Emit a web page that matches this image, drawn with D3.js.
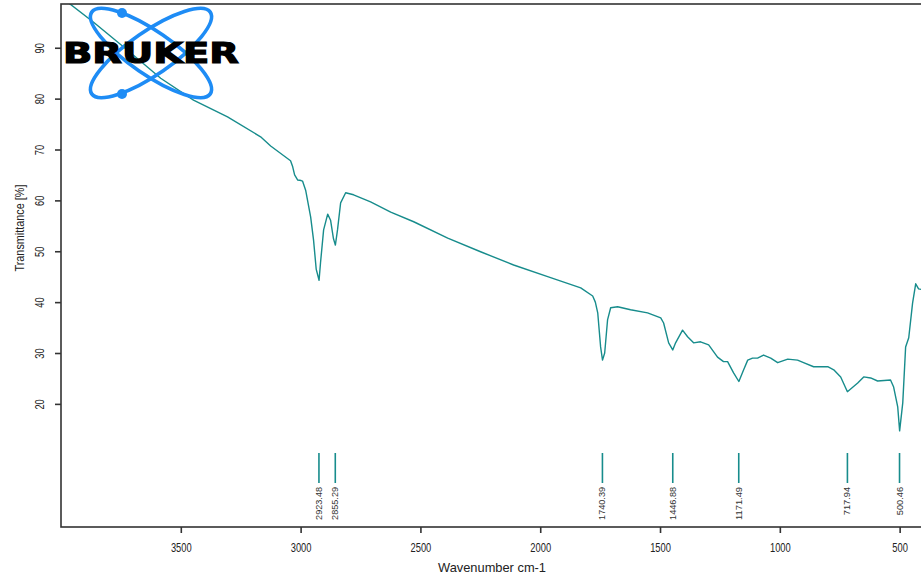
<!DOCTYPE html>
<html>
<head>
<meta charset="utf-8">
<script src="https://cdn.jsdelivr.net/npm/d3@7"></script>
<style>
  html, body { margin: 0; padding: 0; background: #fff; }
  svg { display: block; }
  text { font-family: "Liberation Sans", Arial, sans-serif; fill: #222; }
</style>
</head>
<body>
<svg id="chart" width="921" height="581"></svg>
<script>
// IR spectrum: wavenumber (cm-1) and transmittance (%)
const wavenumbers = [4000, 3968, 3864, 3722, 3584, 3447, 3305, 3167, 3125, 3042, 3033, 3025, 3012, 2998, 2992,
  2979, 2958, 2946, 2935, 2923, 2917, 2904, 2887, 2875, 2863, 2855, 2846, 2833, 2812, 2779, 2708, 2624,
  2528, 2386, 2249, 2111, 1969, 1831, 1781, 1770, 1760, 1748, 1740, 1731, 1719, 1706, 1677, 1623, 1552,
  1497, 1485, 1464, 1447, 1435, 1406, 1385, 1360, 1331, 1297, 1260, 1235, 1218, 1193, 1171, 1151, 1134,
  1114, 1093, 1068, 1038, 1009, 967, 926, 901, 859, 800, 775, 746, 718, 675, 650, 621, 592, 538, 525,
  508, 500, 487, 475, 462, 446, 433, 421, 400];
const transmittance = [99.8, 98.8, 95.0, 89.5, 84.0, 79.7, 76.4, 72.5, 70.7, 67.8, 66.6, 65.0, 64.0, 63.9, 63.8,
  62.0, 56.7, 52.2, 46.5, 44.3, 47.7, 54.2, 57.3, 56.1, 52.5, 51.2, 54.2, 59.5, 61.5, 61.1, 59.7, 57.7,
  55.8, 52.6, 49.9, 47.3, 45.0, 42.8, 41.2, 40.0, 37.9, 31.2, 28.6, 30.0, 36.5, 38.9, 39.1, 38.5, 37.9,
  36.9, 35.9, 32.0, 30.6, 32.0, 34.5, 33.2, 32.0, 32.2, 31.6, 29.2, 28.3, 28.3, 26.1, 24.4, 26.7, 28.6,
  29.0, 29.0, 29.6, 29.0, 28.1, 28.8, 28.6, 28.1, 27.3, 27.3, 26.7, 25.3, 22.4, 24.1, 25.3, 25.1, 24.5, 24.7, 23.3,
  19.4, 14.7, 20.2, 31.2, 33.0, 39.8, 43.6, 42.6, 42.4];

// Picked peaks
const peakPositions = [2923.48, 2855.29, 1740.39, 1446.88, 1171.49, 717.94, 500.46];
const peakLabels = ["2923.48", "2855.29", "1740.39", "1446.88", "1171.49", "717.94", "500.46"];

// Axis ticks
const xTicks = [3500, 3000, 2500, 2000, 1500, 1000, 500];
const yTicks = [20, 30, 40, 50, 60, 70, 80, 90];

const svg = d3.select("#chart");
const plotLeft = 61, plotRight = 923.6, plotTop = 4, plotBottom = 527;
const lineColor = "#178c8c";

const x = d3.scaleLinear().domain([4000, 400]).range([plotLeft, plotRight]);
const y = d3.scaleLinear().domain([-4.2, 98.6]).range([plotBottom, plotTop]);

svg.append("defs").append("clipPath").attr("id", "plotClip")
  .append("rect").attr("x", plotLeft).attr("y", plotTop)
  .attr("width", plotRight - plotLeft).attr("height", plotBottom - plotTop);

// Bruker logo: two crossed orbits with electrons and the wordmark
const logo = svg.append("g");
const cx = 151, cy = 53;
[-34.6, 34.6].forEach(a => {
  logo.append("ellipse")
    .attr("cx", cx).attr("cy", cy).attr("rx", 72).attr("ry", 21.5)
    .attr("transform", `rotate(${a},${cx},${cy})`)
    .attr("fill", "none").attr("stroke", "#1e8cf5").attr("stroke-width", 3.6);
});
[[122, 13], [122, 94]].forEach(([px, py]) => {
  logo.append("circle").attr("cx", px).attr("cy", py).attr("r", 5).attr("fill", "#1e8cf5");
});

// Spectrum
const line = d3.line().x((d, i) => x(wavenumbers[i])).y(d => y(d));
svg.append("path")
  .datum(transmittance)
  .attr("clip-path", "url(#plotClip)")
  .attr("d", line)
  .attr("fill", "none")
  .attr("stroke", lineColor)
  .attr("stroke-width", 1.4)
  .attr("stroke-linejoin", "round");

logo.raise();
logo.append("text")
  .attr("x", 63).attr("y", 63)
  .attr("textLength", 176).attr("lengthAdjust", "spacingAndGlyphs")
  .style("font-family", "'DejaVu Sans', sans-serif")
  .style("font-weight", "bold")
  .style("font-size", "29px")
  .style("fill", "#000")
  .style("stroke", "#000").style("stroke-width", 1.2)
  .text("BRUKER");

// Frame
svg.append("rect")
  .attr("x", plotLeft).attr("y", plotTop)
  .attr("width", plotRight - plotLeft).attr("height", plotBottom - plotTop)
  .attr("fill", "none").attr("stroke", "#333").attr("stroke-width", 1.6);

// X axis
const xAxis = svg.append("g").attr("transform", `translate(0,${plotBottom})`)
  .call(d3.axisBottom(x).tickValues(xTicks).tickSize(6).tickPadding(10).tickFormat(d3.format("d")));
xAxis.select(".domain").remove();
xAxis.selectAll(".tick line").attr("stroke", "#333").attr("stroke-width", 1.6);
xAxis.selectAll(".tick text")
  .style("font-size", "13px").style("fill", "#222")
  .attr("textLength", d => String(d).length * 5.2)
  .attr("lengthAdjust", "spacingAndGlyphs");

// Y axis with rotated labels
const yAxis = svg.append("g").attr("transform", `translate(${plotLeft},0)`)
  .call(d3.axisLeft(y).tickValues(yTicks).tickSize(6).tickFormat(d3.format("d")));
yAxis.select(".domain").remove();
yAxis.selectAll(".tick line").attr("stroke", "#333").attr("stroke-width", 1.6);
yAxis.selectAll(".tick text")
  .attr("x", 0).attr("dy", null)
  .attr("transform", "translate(-20,0) rotate(-90)")
  .attr("text-anchor", "middle")
  .attr("dominant-baseline", "middle")
  .style("font-size", "13px").style("fill", "#222")
  .attr("textLength", d => String(d).length * 5.2)
  .attr("lengthAdjust", "spacingAndGlyphs");

// Axis titles
svg.append("text")
  .attr("transform", "translate(492,572)")
  .attr("text-anchor", "middle")
  .attr("textLength", 108).attr("lengthAdjust", "spacingAndGlyphs")
  .style("font-size", "13px")
  .text("Wavenumber cm-1");

svg.append("text")
  .attr("transform", "translate(24,228) rotate(-90)")
  .attr("text-anchor", "middle")
  .attr("textLength", 87).attr("lengthAdjust", "spacingAndGlyphs")
  .style("font-size", "12px")
  .text("Transmittance [%]");

// Peak markers and labels
const peaks = svg.append("g");
peakPositions.forEach((p, i) => {
  const px = x(p);
  peaks.append("line")
    .attr("x1", px).attr("x2", px).attr("y1", 453).attr("y2", 483)
    .attr("stroke", lineColor).attr("stroke-width", 1.6);
  peaks.append("text")
    .attr("transform", `translate(${px + 3},487) rotate(-90)`)
    .attr("text-anchor", "end")
    .attr("textLength", peakLabels[i].length * 4.7).attr("lengthAdjust", "spacingAndGlyphs")
    .style("font-size", "9px").style("fill", "#333")
    .text(peakLabels[i]);
});
</script>
</body>
</html>
